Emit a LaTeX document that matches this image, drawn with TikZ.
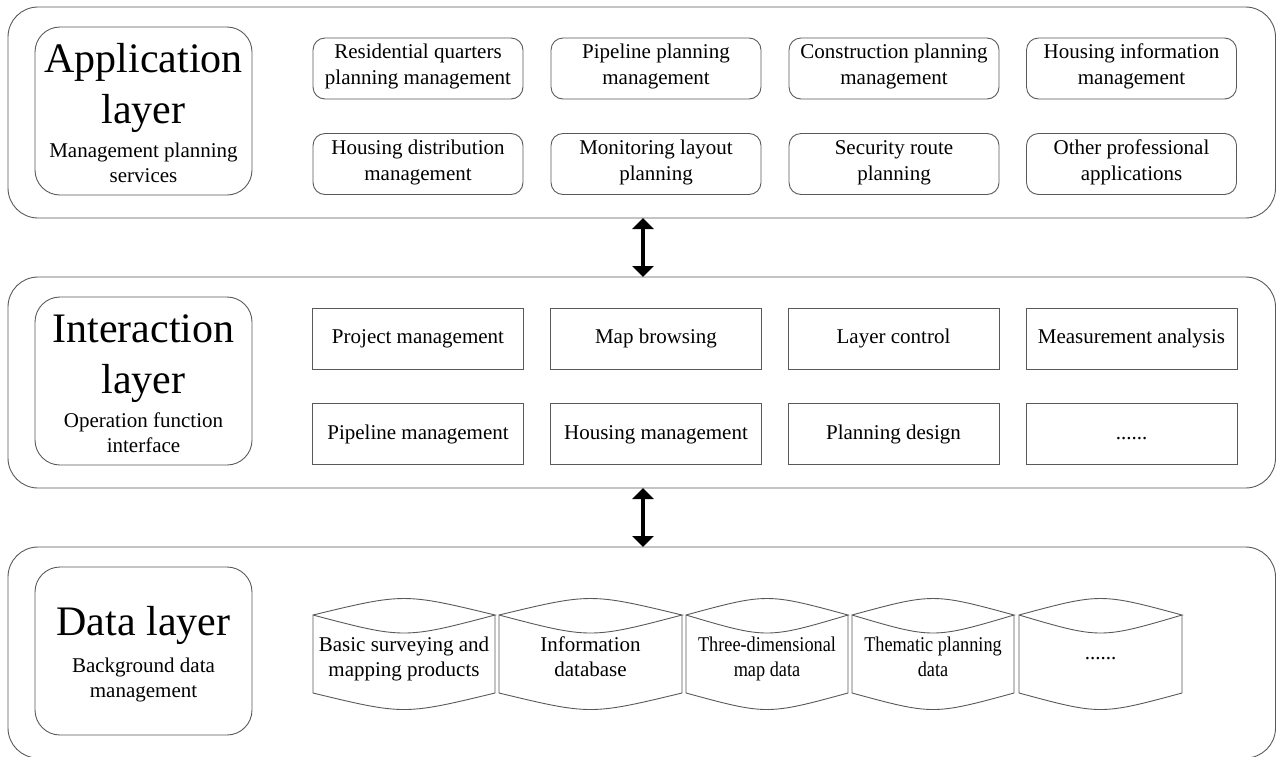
\documentclass[tikz,border=0pt]{standalone}
\usepackage{fontspec}
\setmainfont{Liberation Serif}
\newfontfamily\condserif[FakeStretch=0.87]{Liberation Serif}
\usetikzlibrary{arrows.meta,calc}
\newcommand\bodyfont{\fontsize{21}{26}\selectfont}
\newcommand\cylfont{\fontsize{21}{25}\selectfont}
\newcommand\cylcondfont{\condserif\fontsize{21}{25}\selectfont}
\newcommand\bigfont{\fontsize{42}{51}\selectfont}
\tikzset{
 ln/.style={draw=black!65, line width=0.9pt},
 layerbox/.style={ln, rounded corners=30pt, minimum width=1267.5pt, minimum height=211pt, inner sep=0pt, outer sep=0pt},
 titlebox/.style={ln, rounded corners=25pt, minimum width=217pt, minimum height=168pt, inner sep=0pt},
 boxtext/.style={inner sep=0pt, align=center, font=\bodyfont, execute at begin node=\strut, execute at end node=\strut},
 appbox/.style={ln, boxtext, rounded corners=12pt, minimum width=210pt, minimum height=61pt},
 actbox/.style={ln, boxtext, minimum width=211pt, minimum height=61pt},
 cyl/.style={inner sep=0pt, outer sep=0pt, align=center, font=\cylfont, execute at begin node=\strut, execute at end node=\strut},
 bigtxt/.style={font=\bigfont, anchor=base, inner sep=0pt},
 subtxt/.style={font=\bodyfont, anchor=base, inner sep=0pt},
 dbl/.style={line width=3.8pt, {Triangle[width=21pt,length=11pt]}-{Triangle[width=21pt,length=11pt]}}
}
\begin{document}
\begin{tikzpicture}[x=1pt,y=-1pt]
\useasboundingbox (0,0) rectangle (1276,756);
% layers
\node[layerbox] (L1) at (641.75,112.5) {};
\node[layerbox] (L2) at (641.75,382.5) {};
\node[layerbox] (L3) at (641.75,652.5) {};
% title boxes
\node[titlebox] (T1) at (143.5,111) {};
\node[titlebox] (T2) at (143.5,381) {};
\node[titlebox] (T3) at (143.5,651) {};
\node[bigtxt] (t1a) at (143.5,72) {Application};
\node[bigtxt] (t1b) at (143.5,123) {layer};
\node[subtxt] (t1c) at (143.5,157) {Management planning};
\node[subtxt] (t1d) at (143.5,182) {services};
\node[bigtxt] (t2a) at (143.5,342) {Interaction};
\node[bigtxt] (t2b) at (143.5,393) {layer};
\node[subtxt] (t2c) at (143.5,427) {Operation function};
\node[subtxt] (t2d) at (143.5,452) {interface};
\node[bigtxt] (t3a) at (143.5,635) {Data layer};
\node[subtxt] (t3b) at (143.5,672) {Background data};
\node[subtxt] (t3c) at (143.5,697) {management};
% application boxes
\node[appbox] (a1) at (418,68.5) {Residential quarters\\planning management};
\node[appbox] (a2) at (656,68.5) {Pipeline planning\\management};
\node[appbox] (a3) at (894,68.5) {Construction planning\\management};
\node[appbox] (a4) at (1131.5,68.5) {Housing information\\management};
\node[appbox] (a5) at (418,164) {Housing distribution\\management};
\node[appbox] (a6) at (656,164) {Monitoring layout\\planning};
\node[appbox] (a7) at (894,164) {Security route\\planning};
\node[appbox] (a8) at (1131.5,164) {Other professional\\applications};
% interaction boxes
\node[actbox] (i1) at (418,338.5) {Project management};
\node[actbox] (i2) at (656,338.5) {Map browsing};
\node[actbox] (i3) at (893.5,338.5) {Layer control};
\node[actbox] (i4) at (1131.5,338.5) {Measurement analysis};
\node[actbox] (i5) at (418,434) {Pipeline management};
\node[actbox] (i6) at (656,434) {Housing management};
\node[actbox] (i7) at (893.5,434) {Planning design};
\node[actbox] (i8) at (1131.5,434) {......};
% data cylinders
\coordinate (cy) at (0,660);
\node[cyl, minimum width=182pt] (d1) at (404,660) {Basic surveying and\\mapping products};
\node[cyl, minimum width=183pt] (d2) at (590.5,660) {Information\\database};
\node[cyl, minimum width=162pt, font=\cylcondfont] (d3) at (767,660) {Three-dimensional\\map data};
\node[cyl, minimum width=162pt, font=\cylcondfont] (d4) at (933,660) {Thematic planning\\data};
\node[cyl, minimum width=163pt] (d5) at (1100.5,654) {......};
\foreach \n in {d1,d2,d3,d4,d5}{
  \draw[ln] ($(\n.west |- cy)+(0,-45)$) .. controls ($(\n.center |- cy)+(0,-67)$) .. ($(\n.east |- cy)+(0,-45)$)
     .. controls ($(\n.center |- cy)+(0,-21)$) .. ($(\n.west |- cy)+(0,-45)$)
     -- ($(\n.west |- cy)+(0,33)$) .. controls ($(\n.center |- cy)+(0,55)$) .. ($(\n.east |- cy)+(0,33)$)
     -- ($(\n.east |- cy)+(0,-45)$);
}
% arrows
\draw[dbl] ([xshift=1.25pt]L1.south) -- ([xshift=1.25pt]L2.north);
\draw[dbl] ([xshift=1.25pt]L2.south) -- ([xshift=1.25pt]L3.north);
\end{tikzpicture}
\end{document}
